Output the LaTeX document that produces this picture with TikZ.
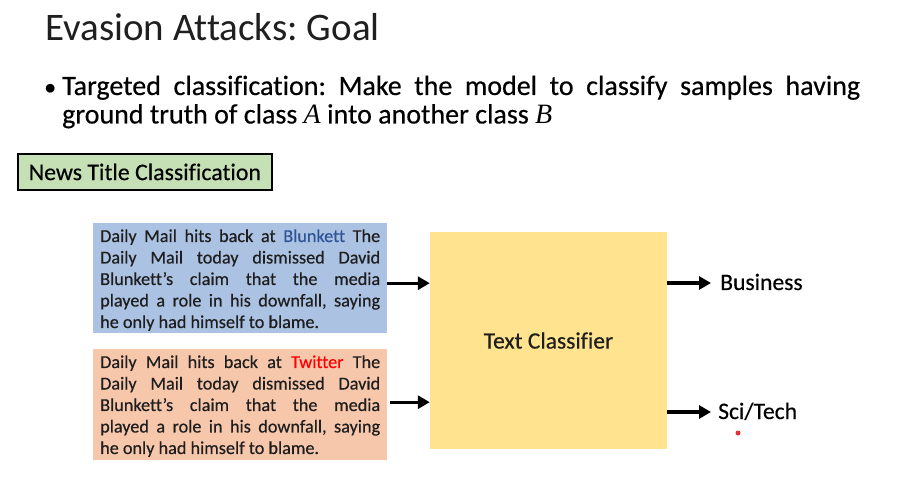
\documentclass[tikz,border=0pt]{standalone}
\usepackage{fontspec}
\setmainfont{Carlito}[Ligatures=NoCommon, FakeBold=0.4]
\newfontfamily\titlefont{Carlito}[Ligatures=NoCommon]
\newfontfamily\serifit{Liberation Serif}
\usetikzlibrary{arrows.meta}
\definecolor{boxblue}{HTML}{ABC2E3}
\definecolor{boxorange}{HTML}{F7C7AC}
\definecolor{boxyellow}{HTML}{FFE38F}
\definecolor{boxgreen}{HTML}{C5E0B4}
\definecolor{txtdark}{HTML}{1E1E1E}
\definecolor{blunk}{HTML}{2F5496}
\tikzset{
  sample/.style={draw=none, minimum width=294pt, minimum height=110pt, inner sep=0pt, anchor=north west},
  sampletext/.style={anchor=base west, inner sep=0pt, text=txtdark, font=\fontsize{18.2}{21.5}\selectfont},
  arr/.style={line width=3.2pt, -{Triangle[length=12pt,width=13pt]}},
  outlabel/.style={anchor=base west, inner sep=0pt, font=\fontsize{23.6}{26}\selectfont, text=black},
}
\newcommand{\jl}[1]{\makebox[280pt][s]{#1}\\}
\begin{document}
\frenchspacing
\begin{tikzpicture}[x=1pt,y=-1pt]
\useasboundingbox (0,0) rectangle (906,481);
\fill[white] (0,0) rectangle (906,481);
% title
\node[anchor=base west, inner sep=0pt, font=\titlefont\fontsize{39}{46}\selectfont, text=black!88] (title) at (45,41) {Evasion Attacks: Goal};
% bullet
\node[anchor=base west, inner sep=0pt, font=\fontsize{24}{28}\selectfont] (bul) at (44,95) {•};
\node[anchor=base west, inner sep=0pt, font=\fontsize{28}{28.5}\selectfont] (btext) at (62,95)
  {\parbox[t]{798pt}{\makebox[798pt][s]{Targeted classification: Make the model to classify samples having}\\
   ground truth of class {\serifit\itshape A} into another class {\serifit\itshape B}}};
% green label
\node[draw=black, line width=1.8pt, fill=boxgreen, anchor=north west, minimum width=254pt, minimum height=36pt, inner sep=0pt, font=\fontsize{23.8}{26}\selectfont] (news) at (17,153) {News Title Classification};
% samples
\node[sample, fill=boxblue] (blue) at (93,223) {};
\node[sampletext] (bluetext) at (100,242) {\parbox[t]{280pt}{%
\jl{Daily Mail hits back at {\color{blunk}Blunkett} The}%
\jl{Daily Mail today dismissed David}%
\jl{Blunkett’s claim that the media}%
\jl{played a role in his downfall, saying}%
he only had himself to blame.}};
\node[sample, fill=boxorange, minimum height=111pt] (orange) at (93,349) {};
\node[sampletext] (orangetext) at (100,368) {\parbox[t]{280pt}{%
\jl{Daily Mail hits back at {\color{red}Twitter} The}%
\jl{Daily Mail today dismissed David}%
\jl{Blunkett’s claim that the media}%
\jl{played a role in his downfall, saying}%
he only had himself to blame.}};
% classifier
\node[fill=boxyellow, minimum width=237pt, minimum height=217pt, inner sep=0pt, font=\fontsize{23.5}{26}\selectfont, text=txtdark] (clf) at (548.5,340.5) {Text Classifier};
% inputs
\draw[arr] ([yshift=-5pt]blue.east) -- ([yshift=-5pt]blue.east -| clf.west);
\draw[arr] ([xshift=3pt,yshift=2.5pt]orange.east) -- ([yshift=2.5pt]orange.east -| clf.west);
% outputs
\node[outlabel] (biz) at (720,290) {Business};
\node[outlabel] (sci) at (718,419) {Sci/Tech};
\coordinate (bizend) at (711,283);
\coordinate (sciend) at (711,412);
\draw[arr] (clf.east |- bizend) -- (bizend);
\draw[arr] (clf.east |- sciend) -- (sciend);
% pointer dot
\fill[red!85!black, opacity=0.8] (738,433) circle (2.5pt);
\end{tikzpicture}
\end{document}
